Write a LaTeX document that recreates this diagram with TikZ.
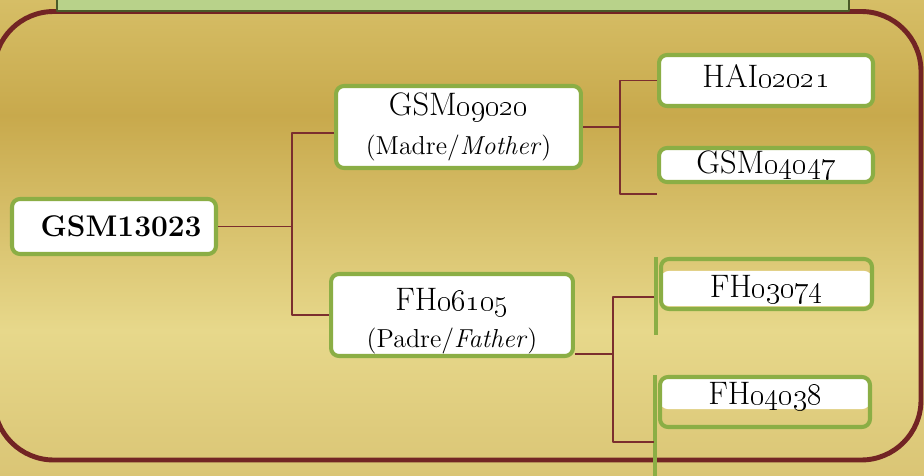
\documentclass[tikz,border=0pt]{standalone}
\usetikzlibrary{positioning, calc}
\definecolor{gold_top}{HTML}{D6BE66}
\definecolor{gold_dark}{HTML}{C8A94C}
\definecolor{gold_light}{HTML}{E7D88B}
\definecolor{gold_bottom}{HTML}{DAC575}
\definecolor{frame_red}{HTML}{722424}
\definecolor{link_red}{HTML}{7B2E2E}
\definecolor{leaf_green}{HTML}{8BAE45}
\definecolor{banner_green}{HTML}{B8D28A}
\definecolor{banner_dark}{HTML}{4A5A28}
\newcommand{\idsize}{\fontsize{18.5}{21}\selectfont}
\newcommand{\rootsize}{\fontsize{17}{20}\selectfont\bfseries}
\newcommand{\subsize}{\fontsize{14.8}{17}\selectfont}
\newcommand{\lift}[2]{\raisebox{#1}[\height][\depth]{#2}}
\tikzset{
  animal/.style={draw=leaf_green, line width=2.3pt, fill=white, rounded corners=4.5pt,
    inner sep=0pt, align=center, font=\idsize},
  band fill/.style 2 args={fill=none, path picture={
    \fill[white] ([yshift=-#1]path picture bounding box.north west)
      rectangle ([yshift=#2]path picture bounding box.south east);}},
  link/.style={draw=link_red, line width=1.1pt},
  stub/.style={draw=leaf_green, line width=2.3pt},
}

\begin{document}
\begin{tikzpicture}[x=0.02cm, y=-0.02cm, line join=round]
  \useasboundingbox (0,0) rectangle (924,476);
  % background
  \fill[top color=gold_top, bottom color=gold_dark] (0,0) rectangle (924,116);
  \fill[top color=gold_dark, bottom color=gold_light] (0,115) rectangle (924,331);
  \fill[top color=gold_light, bottom color=gold_bottom] (0,330) rectangle (924,476);
  \draw[frame_red, line width=2.8pt, rounded corners=34pt] (-6,11.5) rectangle (921,460);
  \draw[banner_dark, fill=banner_green, line width=1.7pt] (57,-20) rectangle (849,11);

  % pedigree
  \node[animal, font=\rootsize, minimum width=4.08cm, minimum height=1.1cm]
    (root) at (114,226.5) {\hspace*{8pt}GSM13023};
  \node[animal, minimum width=4.9cm, minimum height=1.64cm]
    (mother) at (458.5,127) {GSM\oldstylenums{09020}\\[1pt]{\subsize (Madre/\textit{Mother})}};
  \node[animal, minimum width=4.84cm, minimum height=1.64cm]
    (father) at (452,315) {\rule{0pt}{20pt}FH\oldstylenums{06105}\\{\subsize (Padre/\textit{Father})}};

  \node[animal, minimum width=4.28cm, minimum height=1.02cm]
    (hai2021) at (766,80.5) {\lift{2.8pt}{HAI\oldstylenums{02021}}};
  \node[animal, minimum width=4.28cm, minimum height=0.68cm]
    (gsm4047) at (766,165) {GSM\oldstylenums{04047}};
  \node[animal, band fill={6.8pt}{1.7pt}, minimum width=4.22cm, minimum height=1cm]
    (fh3074) at (766.5,284) {\lift{-2.8pt}{FH\oldstylenums{03074}}};
  \node[animal, band fill={0pt}{10.2pt}, minimum width=4.2cm, minimum height=1cm]
    (fh4038) at (765,402) {\lift{3pt}{FH\oldstylenums{04038}}};
  \draw[stub] (fh3074.north west) ++(-3,0) -- ++(0,78);
  \draw[stub] (fh4038.north west) ++(-3,0) -- ++(0,101);

  \coordinate (root_fork) at (292,226.5);
  \coordinate (mother_fork) at (620,127);
  \coordinate (father_fork) at (613,354);
  \coordinate (gsm4047_end) at (657,194);
  \coordinate (fh3074_end) at (654,297);
  \coordinate (fh4038_end) at (654,442);

  \draw[link] (root.east) -- (root_fork);
  \draw[link] ($(mother.west)+(0,6)$) -| (root_fork) |- (father.west);
  \draw[link] (mother.east) -- (mother_fork);
  \draw[link] (hai2021.west) -| (mother_fork) |- (gsm4047_end);
  \draw[link] (father.east |- father_fork) -- (father_fork);
  \draw[link] (fh3074_end) -| (father_fork) |- (fh4038_end);
\end{tikzpicture}
\end{document}
